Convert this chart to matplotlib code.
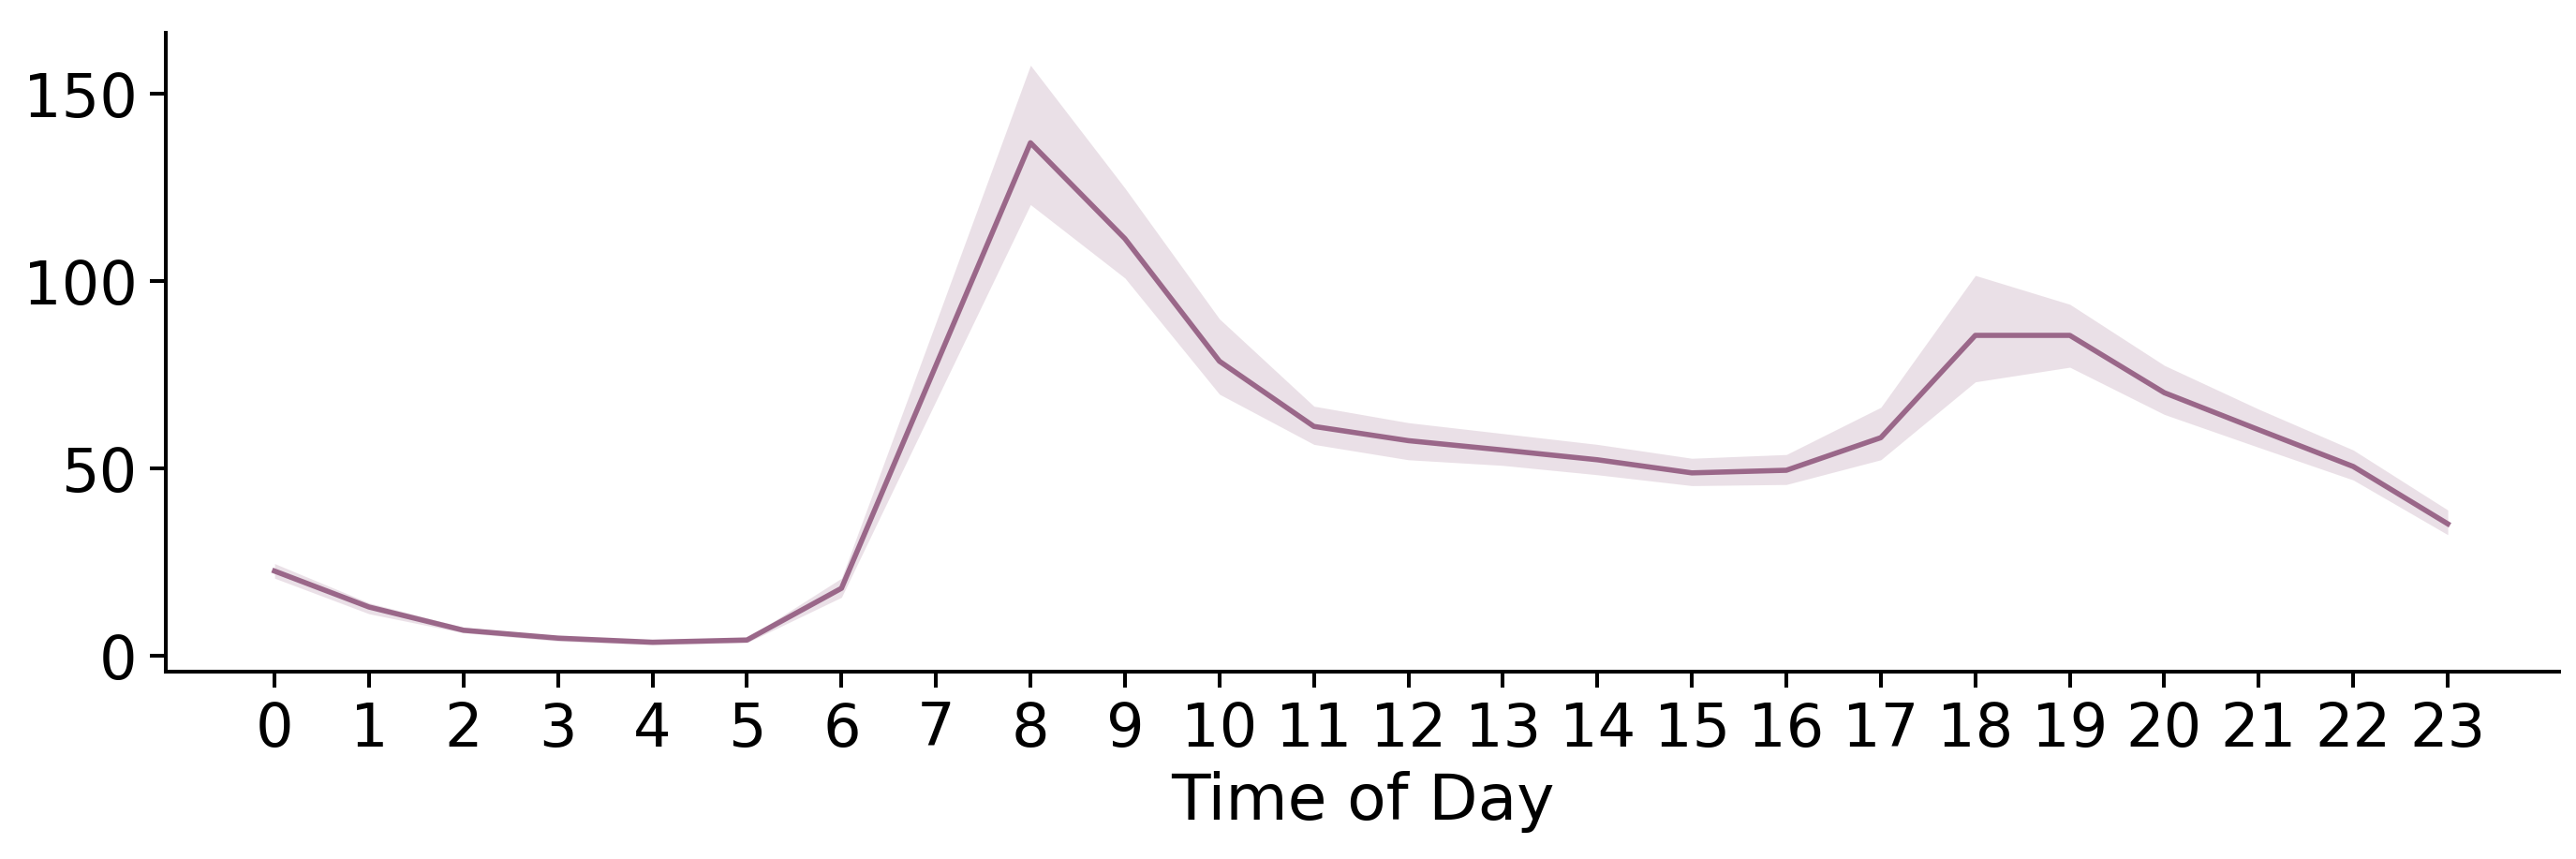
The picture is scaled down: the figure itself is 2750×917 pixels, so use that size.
import matplotlib
matplotlib.use("Agg")
import matplotlib.pyplot as plt
import numpy as np

# hourly values
hours = list(range(24))
mean_val = [22.6, 13.0, 6.8, 4.7, 3.6, 4.2, 18.0, 77.5, 136.9, 111.3, 78.6, 61.2,
            57.4, 54.9, 52.3, 48.8, 49.5, 58.2, 85.5, 85.5, 70.2, 60.3, 50.5, 35.2]
upper_val = [24.6, 14.1, 7.6, 5.1, 4.2, 4.7, 20.7, 89.0, 157.6, 124.8, 89.9, 66.6,
             62.2, 59.3, 56.4, 52.7, 53.7, 66.3, 101.5, 93.8, 77.5, 65.8, 54.9, 38.9]
lower_val = [20.7, 11.2, 6.1, 3.9, 2.9, 3.5, 15.6, 68.0, 120.4, 100.8, 69.8, 56.4,
             52.3, 50.8, 48.3, 45.4, 45.7, 52.3, 73.1, 77.0, 64.4, 55.6, 46.9, 32.3]
yticks = [0, 50, 100, 150]

line_color = "#9a6789"

fig = plt.figure(figsize=(13.75, 4.585), dpi=200)
ax = fig.add_axes([0.0644, 0.2181, 0.9291, 0.7437])

ax.fill_between(hours, lower_val, upper_val, color=line_color, alpha=0.2, linewidth=0)
ax.plot(hours, mean_val, color=line_color, lw=2.0)

ax.set_xlim(-1.15, 24.18)
ax.set_ylim(-4.25, 166.25)
ax.set_xticks(hours)
ax.set_yticks(yticks)
ax.set_xlabel("Time of Day", fontsize=24.5, labelpad=5)
ax.tick_params(labelsize=23, length=6, width=1.45, pad=5)

for s in ["top", "right"]:
    ax.spines[s].set_visible(False)
for s in ["left", "bottom"]:
    ax.spines[s].set_linewidth(1.45)

plt.savefig("out.png", dpi=200)
